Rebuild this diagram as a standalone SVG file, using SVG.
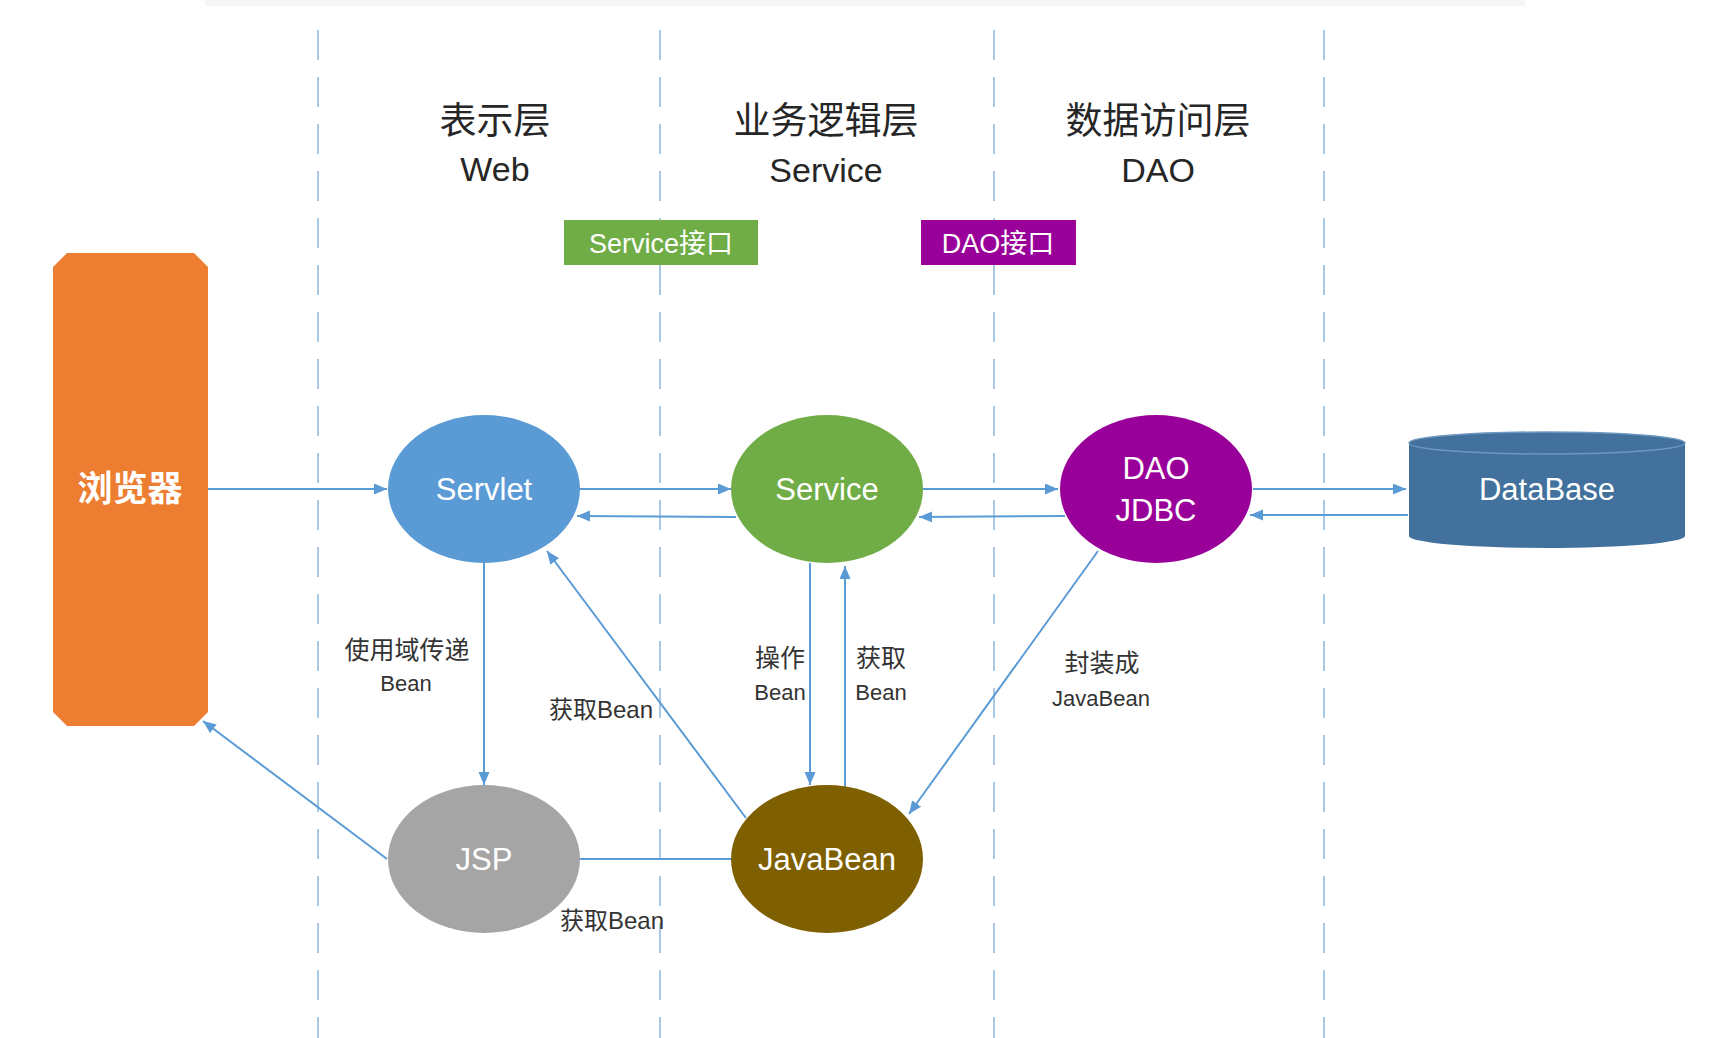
<svg xmlns="http://www.w3.org/2000/svg" width="1732" height="1038" viewBox="0 0 1732 1038">
<style>
.lane{stroke:#A9C8E8;stroke-width:2;stroke-dasharray:30 17;fill:none}
.title{font-family:"Liberation Sans","Noto Sans CJK SC",sans-serif;fill:#262626;text-anchor:middle}
.ntext{font-family:"Liberation Sans","Noto Sans CJK SC",sans-serif;fill:#ffffff;text-anchor:middle}
.lbl{font-family:"Liberation Sans","Noto Sans CJK SC",sans-serif;fill:#333333;text-anchor:middle}
.conn{stroke:#5B9BD5;stroke-width:2;fill:none}
</style>
<defs>
<marker id="ah" markerUnits="userSpaceOnUse" markerWidth="14" markerHeight="12" refX="13" refY="5.5" orient="auto">
<path d="M0,0 L13,5.5 L0,11 Z" fill="#5B9BD5"/>
</marker>
</defs>
<rect width="1732" height="1038" fill="#ffffff"/>
<rect x="205" y="0" width="1320" height="6" fill="#f6f6f6"/>
<g id="lanes">
<line class="lane" x1="318" y1="30" x2="318" y2="1038"/>
<line class="lane" x1="660" y1="30" x2="660" y2="1038"/>
<line class="lane" x1="994" y1="30" x2="994" y2="1038"/>
<line class="lane" x1="1324" y1="30" x2="1324" y2="1038"/>
</g>
<g id="titles">
<text class="title" x="495" y="134" font-size="37">表示层</text>
<text class="title" x="495" y="181" font-size="34">Web</text>
<text class="title" x="826" y="134" font-size="37">业务逻辑层</text>
<text class="title" x="826" y="182" font-size="34">Service</text>
<text class="title" x="1158" y="134" font-size="37">数据访问层</text>
<text class="title" x="1158" y="182" font-size="34">DAO</text>
</g>
<g id="service-interface">
<rect x="564" y="220" width="194" height="45" fill="#70AD47"/>
<text class="ntext" x="661" y="253" font-size="27">Service接口</text>
</g>
<g id="dao-interface">
<rect x="921" y="220" width="155" height="45" fill="#990099"/>
<text class="ntext" x="998" y="253" font-size="27">DAO接口</text>
</g>
<g id="connectors">
<path class="conn" d="M208,489 H387" marker-end="url(#ah)"/>
<path class="conn" d="M580,489 H731" marker-end="url(#ah)"/>
<path class="conn" d="M736,517 L577,516" marker-end="url(#ah)"/>
<path class="conn" d="M923,489 H1058" marker-end="url(#ah)"/>
<path class="conn" d="M1065,516 L919,517" marker-end="url(#ah)"/>
<path class="conn" d="M1253,489 H1406" marker-end="url(#ah)"/>
<path class="conn" d="M1408,515 H1250" marker-end="url(#ah)"/>
<path class="conn" d="M484,563 V785" marker-end="url(#ah)"/>
<path class="conn" d="M746,818 L547,551" marker-end="url(#ah)"/>
<path class="conn" d="M810,563 V785" marker-end="url(#ah)"/>
<path class="conn" d="M845,788 V566" marker-end="url(#ah)"/>
<path class="conn" d="M1098,551 L909,814" marker-end="url(#ah)"/>
<path class="conn" d="M387,859 L203,721" marker-end="url(#ah)"/>
<path class="conn" d="M580,859 H732" stroke-width="3"/>
</g>
<g id="labels">
<text class="lbl" x="407" y="659" font-size="25">使用域传递</text>
<text class="lbl" x="406" y="691" font-size="22">Bean</text>
<text class="lbl" x="601" y="718" font-size="24">获取Bean</text>
<text class="lbl" x="780" y="667" font-size="25">操作</text>
<text class="lbl" x="780" y="700" font-size="22">Bean</text>
<text class="lbl" x="881" y="667" font-size="25">获取</text>
<text class="lbl" x="881" y="700" font-size="22">Bean</text>
<text class="lbl" x="1102" y="672" font-size="25">封装成</text>
<text class="lbl" x="1101" y="706" font-size="22">JavaBean</text>
<text class="lbl" x="612" y="929" font-size="24">获取Bean</text>
</g>
<g id="browser">
<path d="M67,253 H194 L208,267 V712 L194,726 H67 L53,712 V267 Z" fill="#ED7D31"/>
<text class="ntext" x="130" y="501" font-size="35" font-weight="bold">浏览器</text>
</g>
<g id="servlet">
<ellipse cx="484" cy="489" rx="96" ry="74" fill="#5B9BD5"/>
<text class="ntext" x="484" y="500" font-size="31">Servlet</text>
</g>
<g id="service">
<ellipse cx="827" cy="489" rx="96" ry="74" fill="#70AD47"/>
<text class="ntext" x="827" y="500" font-size="31">Service</text>
</g>
<g id="dao">
<ellipse cx="1156" cy="489" rx="96" ry="74" fill="#990099"/>
<text class="ntext" x="1156" y="479" font-size="31">DAO</text>
<text class="ntext" x="1156" y="521" font-size="31">JDBC</text>
</g>
<g id="database">
<path d="M1409,443 V536 A138,12 0 0 0 1685,536 V443 Z" fill="#41719C"/>
<ellipse cx="1547" cy="443" rx="138" ry="11" fill="#41719C" stroke="#6E98C0" stroke-width="1.5"/>
<text class="ntext" x="1547" y="500" font-size="31">DataBase</text>
</g>
<g id="jsp">
<ellipse cx="484" cy="859" rx="96" ry="74" fill="#A5A5A5"/>
<text class="ntext" x="484" y="870" font-size="31">JSP</text>
</g>
<g id="javabean">
<ellipse cx="827" cy="859" rx="96" ry="74" fill="#7F6000"/>
<text class="ntext" x="827" y="870" font-size="31">JavaBean</text>
</g>
</svg>
